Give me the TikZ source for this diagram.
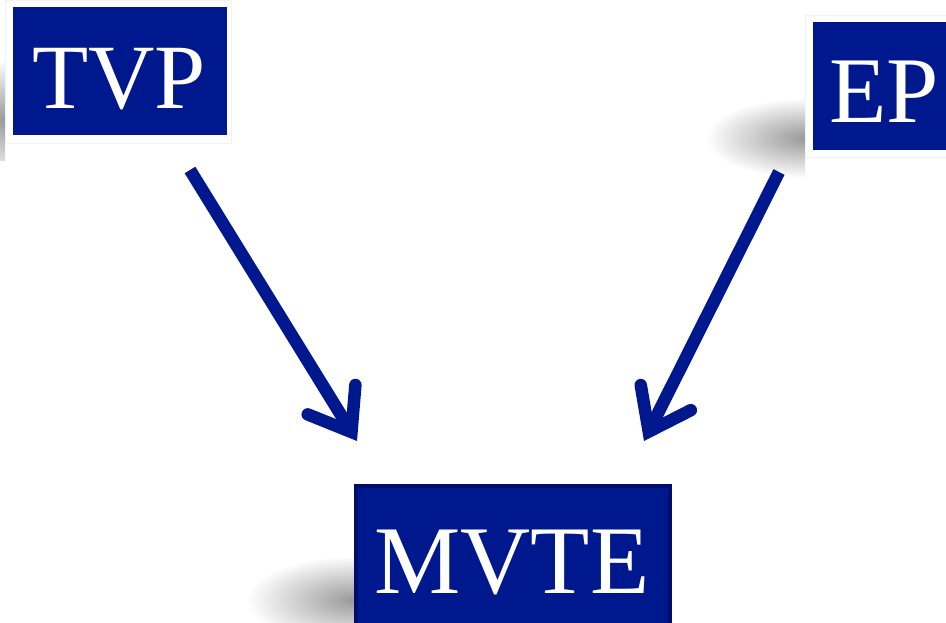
\documentclass[tikz,border=0pt]{standalone}
\usepackage{fontspec}
\setmainfont{Liberation Serif}
\usetikzlibrary{arrows.meta}
\definecolor{boxblue}{RGB}{0,24,142}
\definecolor{boxedge}{RGB}{0,14,105}
\tikzset{
  frame/.style={fill=white, draw=black!5, line width=1pt},
  bluebox/.style={fill=boxblue},
  softshadow/.style={shading=radial, inner color=black!40, outer color=white},
  label/.style={text=white, inner sep=0pt, anchor=base},
  flow/.style={draw=boxblue, line width=12.5pt,
    -{Straight Barb[length=38pt, width=56pt, line cap=round, line join=miter]}}
}
\begin{document}
\begin{tikzpicture}[x=1pt, y=-1pt]
  \useasboundingbox (0,0) rectangle (946,622);

  % soft shadows cast to the left of each box
  \begin{scope}
    \clip (0,0) rectangle (5,160);
    \shade[softshadow] (-55,60) rectangle (65,180);
  \end{scope}
  \begin{scope}
    \clip (700,60) rectangle (805,200);
    \shade[softshadow] (705,98) rectangle (905,178);
  \end{scope}
  \begin{scope}
    \clip (240,540) rectangle (354,622);
    \shade[softshadow] (246,556) rectangle (462,644);
  \end{scope}

  % TVP box
  \filldraw[frame] (5,0) rectangle (231,143);
  \fill[bluebox] (13,7) rectangle (227,135);
  \node[label, font=\fontsize{92}{100}\selectfont] (tvp) at (119,108) {TVP};

  % EP box
  \filldraw[frame] (805,15) rectangle (950,157);
  \fill[bluebox] (813,22) rectangle (950,150);
  \node[label, font=\fontsize{94}{100}\selectfont] (ep) at (884,122) {EP};

  % MVTE box
  \fill[bluebox, draw=boxedge, line width=4pt] (356,486) rectangle (670,626);
  \node[label, font=\fontsize{97}{100}\selectfont] (mvte) at (512,593) {MVTE};

  % connectors
  \coordinate (tvpout) at (190,170);
  \coordinate (tvptip) at (357,441);
  \coordinate (epout) at (779,172);
  \coordinate (eptip) at (644,441);
  \draw[flow] (tvpout) -- (tvptip);
  \draw[flow] (epout) -- (eptip);
\end{tikzpicture}
\end{document}
